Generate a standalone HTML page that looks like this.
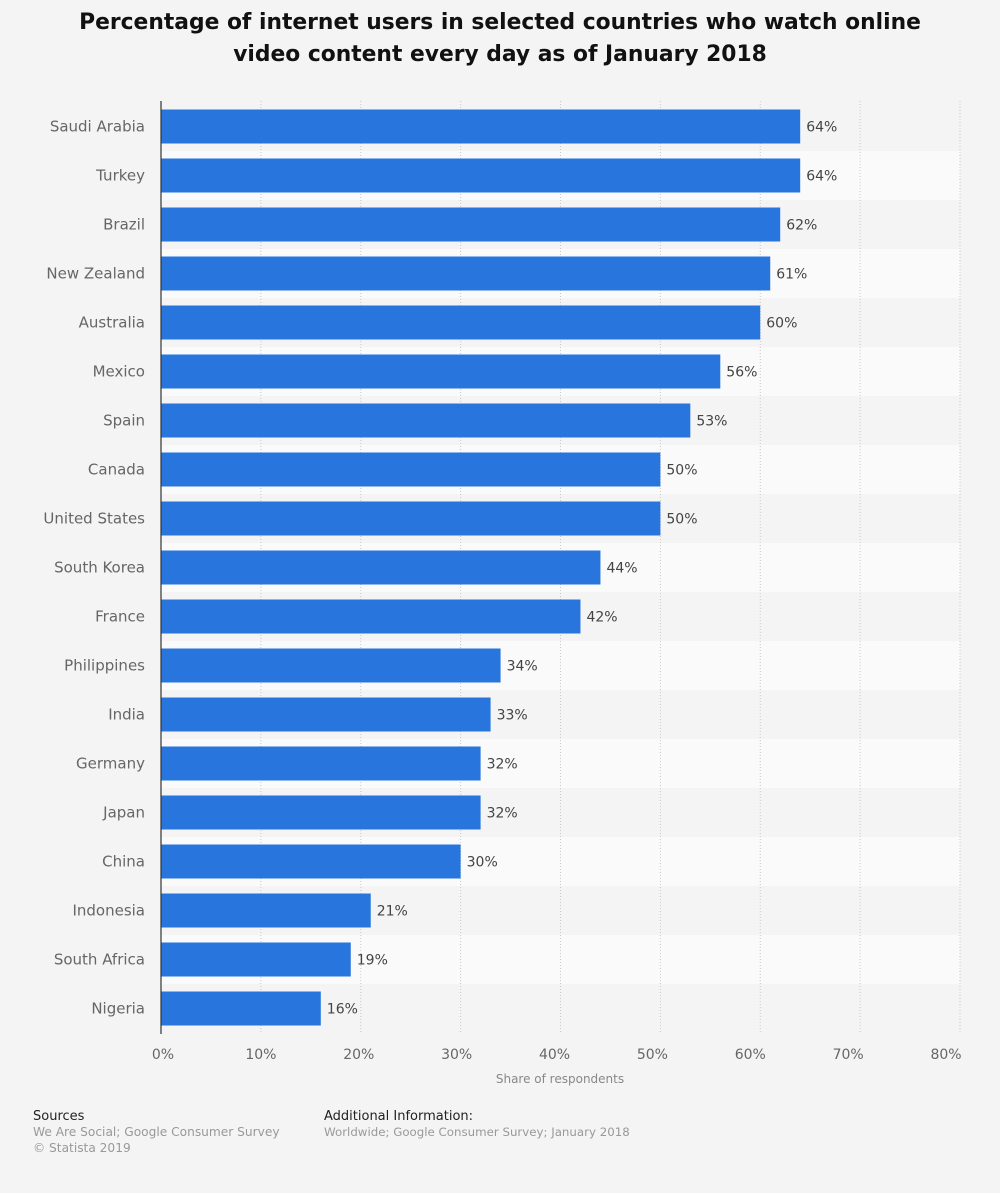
<!DOCTYPE html>
<html><head><meta charset="utf-8"><style>
html,body{margin:0;padding:0;background:#f4f4f4;}
svg{display:block;font-family:"DejaVu Sans","Liberation Sans",sans-serif;}
</style></head><body>
<svg id="chart" width="1000" height="1193" viewBox="0 0 1000 1193">
<rect width="1000" height="1193" fill="#f4f4f4"/>
<text x="500" y="29" text-anchor="middle" font-size="21.8" font-weight="bold" fill="#111">Percentage of internet users in selected countries who watch online</text>
<text x="500" y="61" text-anchor="middle" font-size="21.8" font-weight="bold" fill="#111">video content every day as of January 2018</text>
<g id="bands"></g><g id="grid"></g><g id="bars"></g><g id="labels"></g><g id="ticks"></g>
<line x1="161" y1="101" x2="161" y2="1034" stroke="#333" stroke-width="1.2"/>
<text x="560" y="1083" text-anchor="middle" font-size="12" fill="#888">Share of respondents</text>
<text x="33" y="1120" font-size="13" fill="#222">Sources</text>
<text x="33" y="1136" font-size="12.2" fill="#999">We Are Social; Google Consumer Survey</text>
<text x="33" y="1152" font-size="12.2" fill="#999">© Statista 2019</text>
<text x="324" y="1120" font-size="13" fill="#222">Additional Information:</text>
<text x="324" y="1136" font-size="11.8" fill="#999">Worldwide; Google Consumer Survey; January 2018</text>
</svg>
<script>
const categories = ["Saudi Arabia","Turkey","Brazil","New Zealand","Australia","Mexico","Spain","Canada","United States","South Korea","France","Philippines","India","Germany","Japan","China","Indonesia","South Africa","Nigeria"];
const values = [64,64,62,61,60,56,53,50,50,44,42,34,33,32,32,30,21,19,16];
const tickValues = [0,10,20,30,40,50,60,70,80];
const tickLabels = ["0%","10%","20%","30%","40%","50%","60%","70%","80%"];

const NS = "http://www.w3.org/2000/svg";
const x0 = 161, x1 = 960, xMax = 80, plotTop = 102, rowH = 49, barH = 34;
const xs = v => x0 + (v / xMax) * (x1 - x0);
const yc = i => plotTop + rowH * i + rowH / 2;
function mk(tag, attrs, parent, text) {
  const e = document.createElementNS(NS, tag);
  for (const k in attrs) e.setAttribute(k, attrs[k]);
  if (text !== undefined) e.textContent = text;
  document.getElementById(parent).appendChild(e);
  return e;
}
categories.forEach((c, i) => {
  const band = mk("rect", {x: x0, y: plotTop + rowH * i, width: x1 - x0, height: rowH, fill: i % 2 ? "#fafafa" : "#f4f4f4"}, "bands");
  
  
});
tickValues.forEach((t, i) => {
  if (t > 0) {
    const g = mk("line", {x1: xs(t), x2: xs(t), y1: 101, y2: 1034, stroke: "#c8c8c8", "stroke-dasharray": "1,2"}, "grid");
    
    
  }
  const tl = mk("text", {x: xs(t) + 2 - t * 0.2, y: 1059, "text-anchor": "middle", "font-size": 14, fill: "#666"}, "ticks", tickLabels[i]);
  
  
});
categories.forEach((c, i) => {
  const b = mk("rect", {x: x0, y: yc(i) - barH / 2, width: xs(values[i]) - x0, height: barH, fill: "#2876dd"}, "bars");
  
  
  const cl = mk("text", {x: 145, y: yc(i) + 5, "text-anchor": "end", "font-size": 15, fill: "#666"}, "labels", c);
  
  
  const vl = mk("text", {x: xs(values[i]) + 6, y: yc(i) + 5, "font-size": 14, fill: "#444"}, "labels", values[i] + "%");
  
  
});
</script>
</body></html>
